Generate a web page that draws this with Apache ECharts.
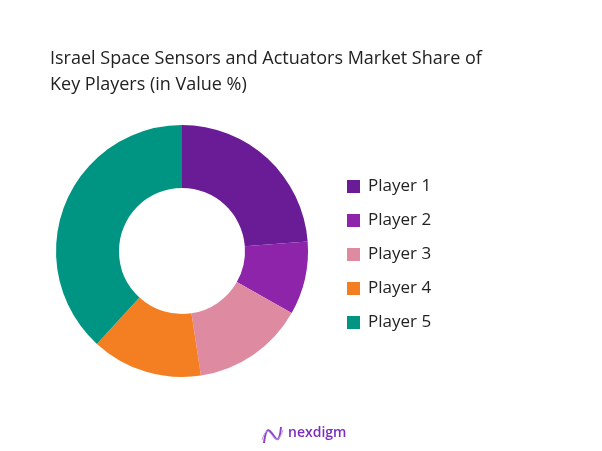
<!DOCTYPE html>
<html><head><meta charset="utf-8">
<script src="https://cdn.jsdelivr.net/npm/echarts@6/dist/echarts.min.js"></script>
<style>html,body{margin:0;padding:0;background:#fff}#c{width:602px;height:451px}</style>
</head><body><div id="c"></div>
<script>
const categories = ["Player 1","Player 2","Player 3","Player 4","Player 5"];
const shareValues = [23.8, 9.4, 14.4, 14.2, 38.2];
const sliceColors = ["#6a1b96","#8d24aa","#de8aa1","#f37f22","#009583"];
const titleLines = ["Israel Space Sensors and Actuators Market Share of","Key Players (in Value %)"];

const chart = echarts.init(document.getElementById('c'));
chart.setOption({
  animation:false,
  title:{text:titleLines.join('\n'), left:45, top:41,
    textStyle:{fontFamily:'Open Sans', fontWeight:'normal', fontSize:18, color:'#222', lineHeight:26}},
  legend:{orient:'vertical', left:342, top:173, itemWidth:13, itemHeight:13, itemGap:17,
    icon:'rect', data:categories,
    textStyle:{fontFamily:'Open Sans', fontSize:17, color:'#222', padding:[0,0,0,3]}},
  series:[{type:'pie', center:[182,251], radius:[63,126], startAngle:90, clockwise:true,
    label:{show:false}, labelLine:{show:false}, silent:true,
    data:categories.map((n,i)=>({name:n, value:shareValues[i], itemStyle:{color:sliceColors[i]}}))}],
  graphic:[
    {type:'bezierCurve', shape:{x1:264,y1:443,cpx1:268,cpy1:407,cpx2:278,cpy2:462,x2:281,y2:427},
      style:{stroke:'#8e44c8', lineWidth:2, fill:null}},
    {type:'bezierCurve', shape:{x1:262,y1:440,cpx1:270,cpy1:414,cpx2:274,cpy2:457,x2:283,y2:430},
      style:{stroke:'#c39be0', lineWidth:1, fill:null}},
    {type:'text', left:288, top:426, style:{text:'nexdigm', fontFamily:'Open Sans', fontWeight:600, fontSize:14, fill:'#7b2cbf'}}
  ]
});
</script></body></html>
